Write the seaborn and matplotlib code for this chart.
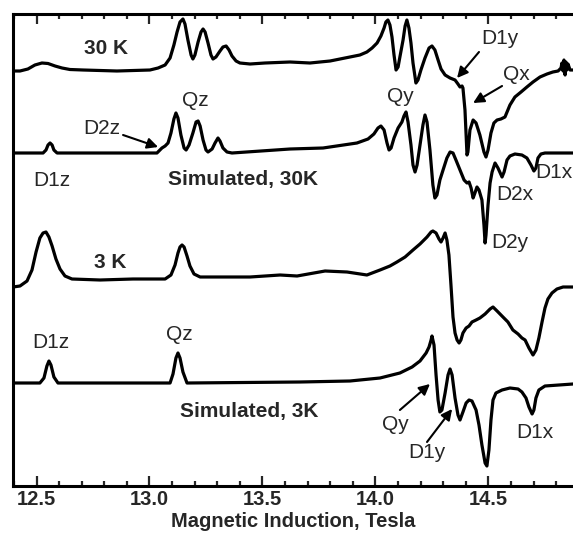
import numpy as np
import pandas as pd
import matplotlib
matplotlib.use("Agg")
import matplotlib.pyplot as plt
import seaborn as sns
from matplotlib.ticker import MultipleLocator

# ---------------- data (field in Tesla, intensity in arbitrary units relative to baseline) ----------------
exp30_field = [12.396, 12.427, 12.462, 12.493, 12.524, 12.551, 12.582, 12.613, 12.648, 12.706, 12.856,
               13.002, 13.038, 13.069, 13.091, 13.108, 13.122, 13.135, 13.148, 13.157, 13.170, 13.184,
               13.192, 13.201, 13.215, 13.228, 13.237, 13.246, 13.259, 13.272, 13.281, 13.294, 13.312,
               13.325, 13.339, 13.352, 13.365, 13.383, 13.400, 13.445, 13.511, 13.622, 13.710, 13.799,
               13.887, 13.931, 13.962, 13.985, 14.007, 14.024, 14.038, 14.046, 14.055, 14.064, 14.073,
               14.082, 14.091, 14.100, 14.108, 14.122, 14.131, 14.139, 14.148, 14.157, 14.166, 14.179,
               14.188, 14.201, 14.219, 14.237, 14.250, 14.263, 14.277, 14.290, 14.308, 14.330, 14.352,
               14.365, 14.374, 14.383, 14.387, 14.396, 14.401, 14.405, 14.409, 14.418, 14.432, 14.445,
               14.462, 14.480, 14.489, 14.498, 14.511, 14.524, 14.538, 14.555, 14.573, 14.595, 14.617,
               14.644, 14.670, 14.697, 14.728, 14.759, 14.785, 14.808, 14.821, 14.825, 14.830, 14.834,
               14.839, 14.843, 14.847, 14.852, 14.861, 14.874]
exp30_int = [-1, -1, 1, 5, 7, 6.5, 4, 2, 0.5, 0, -1,
             0, 2, 5, 12, 25, 38, 48, 51, 46, 30, 15,
             11, 15, 28, 38, 41, 38, 27, 15, 11, 13, 19,
             23, 24, 20, 14, 9, 7, 6, 7, 8, 7, 9,
             13, 15, 18, 22, 27, 34, 42, 48, 50, 45, 33,
             15, 0, 3, 13, 30, 44, 50, 42, 27, 7, -13,
             -10, 0, 12, 22, 24, 20, 10, 1, -5, -8, -10,
             -14, -17, -16, -18, -40, -65, -85, -82, -60, -50, -53,
             -65, -82, -87, -80, -63, -53, -50, -49, -47, -35, -27,
             -22, -17, -12, -7, -4, -2, -1, 2, 7, -1, 10,
             -5, 8, 0, 6, 0, 0]

sim30_field = [12.396, 12.529, 12.542, 12.551, 12.560, 12.569, 12.577, 12.591, 12.781, 13.033, 13.055,
               13.069, 13.082, 13.095, 13.108, 13.117, 13.126, 13.139, 13.153, 13.162, 13.175, 13.192,
               13.206, 13.215, 13.224, 13.237, 13.250, 13.259, 13.277, 13.290, 13.303, 13.312, 13.325,
               13.343, 13.365, 13.622, 13.768, 13.918, 13.967, 13.993, 14.011, 14.024, 14.038, 14.051,
               14.060, 14.069, 14.082, 14.100, 14.117, 14.126, 14.135, 14.144, 14.157, 14.166, 14.175,
               14.184, 14.197, 14.210, 14.219, 14.228, 14.241, 14.254, 14.263, 14.272, 14.285, 14.299,
               14.316, 14.330, 14.343, 14.356, 14.374, 14.392, 14.405, 14.414, 14.423, 14.432, 14.440,
               14.449, 14.458, 14.471, 14.480, 14.485, 14.489, 14.498, 14.507, 14.516, 14.529, 14.542,
               14.560, 14.569, 14.582, 14.595, 14.617, 14.648, 14.670, 14.688, 14.701, 14.710, 14.719,
               14.732, 14.750, 14.874]
sim30_int = [0, 0, 3, 8, 10, 8, 3, 0, 0, 0, 5,
             7, 10, 20, 34, 40, 35, 18, 5, 3, 8, 20,
             31, 32, 27, 13, 3, 1, 4, 10, 15, 12, 5,
             1, 0, 4, 5, 10, 14, 19, 25, 27, 23, 10,
             3, 5, 15, 25, 31, 37, 41, 31, 8, -12, -19,
             -12, 8, 28, 38, 31, 3, -32, -45, -42, -27, -17,
             -5, 1, 0, -7, -17, -27, -30, -29, -35, -45, -40,
             -34, -37, -47, -72, -90, -82, -52, -30, -19, -10, -15,
             -24, -19, -7, -3, -1, -2, -5, -12, -18, -15, -5,
             -1, 0, 0]

exp3_field = [12.396, 12.427, 12.458, 12.480, 12.498, 12.515, 12.529, 12.542, 12.555, 12.569, 12.586,
              12.604, 12.626, 12.657, 12.781, 12.927, 13.069, 13.095, 13.113, 13.126, 13.135, 13.144,
              13.153, 13.166, 13.179, 13.197, 13.224, 13.370, 13.445, 13.578, 13.653, 13.777, 13.874,
              13.962, 14.020, 14.064, 14.095, 14.131, 14.166, 14.197, 14.228, 14.246, 14.254, 14.268,
              14.281, 14.290, 14.299, 14.308, 14.316, 14.325, 14.334, 14.343, 14.352, 14.361, 14.370,
              14.378, 14.387, 14.401, 14.414, 14.427, 14.445, 14.462, 14.485, 14.507, 14.520, 14.538,
              14.564, 14.586, 14.608, 14.631, 14.648, 14.662, 14.679, 14.697, 14.710, 14.723, 14.737,
              14.750, 14.763, 14.781, 14.803, 14.830, 14.874]
exp3_int = [-8, -7, -2, 9, 27, 41, 46, 47, 42, 33, 20,
            10, 3, 0, -1, 0, 0, 4, 14, 26, 32, 34,
            32, 23, 13, 5, 2, 2, 2, 4, 3, 8, 7,
            4, 9, 13, 17, 22, 29, 35, 42, 47, 48, 46,
            40, 37, 41, 46, 39, 24, -6, -38, -54, -61, -64,
            -61, -54, -49, -47, -43, -41, -39, -35, -30, -28, -32,
            -38, -43, -51, -55, -59, -61, -69, -76, -71, -59, -43,
            -29, -20, -14, -10, -8, -8]

sim3_field = [12.396, 12.515, 12.533, 12.546, 12.555, 12.564, 12.577, 12.595, 13.091, 13.104, 13.117,
              13.126, 13.135, 13.148, 13.166, 13.666, 13.887, 14.020, 14.108, 14.162, 14.197, 14.224,
              14.237, 14.246, 14.250, 14.259, 14.268, 14.277, 14.285, 14.294, 14.308, 14.321, 14.330,
              14.339, 14.352, 14.365, 14.374, 14.387, 14.401, 14.414, 14.427, 14.445, 14.458, 14.471,
              14.485, 14.493, 14.502, 14.511, 14.520, 14.533, 14.560, 14.595, 14.631, 14.648, 14.666,
              14.679, 14.693, 14.701, 14.710, 14.723, 14.750, 14.874]
sim3_int = [0, 0, 5, 17, 22, 18, 6, 0, 0, 9, 25,
            30, 25, 11, 0, 1, 2, 5, 10, 16, 22, 30,
            36, 43, 47, 38, 8, -17, -29, -27, -10, 8, 14,
            8, -15, -32, -37, -29, -20, -17, -18, -27, -42, -62,
            -80, -83, -67, -37, -17, -10, -7, -5, -6, -9, -15,
            -24, -31, -27, -15, -7, -3, -1]

trace_names = ["30 K", "Simulated, 30K", "3 K", "Simulated, 3K"]
tick_values = [12.5, 13.0, 13.5, 14.0, 14.5]
tick_labels = ["12.5", "13.0", "13.5", "14.0", "14.5"]

# ---------------- layout ----------------
offsets = {"30 K": 416, "Simulated, 30K": 333, "3 K": 207, "Simulated, 3K": 103}
series = {"30 K": (exp30_field, exp30_int),
          "Simulated, 30K": (sim30_field, sim30_int),
          "3 K": (exp3_field, exp3_int),
          "Simulated, 3K": (sim3_field, sim3_int)}

frames = []
for name in trace_names:
    f, v = series[name]
    frames.append(pd.DataFrame({"field": f, "signal": np.array(v, dtype=float) + offsets[name],
                                "trace": name}))
df = pd.concat(frames, ignore_index=True)

sns.set_theme(style="ticks")
plt.rcParams["font.family"] = ["Liberation Sans", "DejaVu Sans"]

fig = plt.figure(figsize=(5.73, 5.34), dpi=100)
ax = fig.add_axes([13 / 573, 48 / 534, 1 - 13 / 573, 472 / 534])

for name in trace_names:
    sns.lineplot(data=df[df["trace"] == name], x="field", y="signal", ax=ax, color="black",
                 lw=2.3, estimator=None, sort=False, legend=False,
                 solid_joinstyle="round", solid_capstyle="round")

ax.set_xlim(12.396, 14.874)
ax.set_ylim(0, 472)
ax.set_yticks([])
ax.set_ylabel("")
ax.set_xticks(tick_values)
ax.set_xticklabels(tick_labels, fontsize=14.5, fontweight="bold")
ax.xaxis.set_minor_locator(MultipleLocator(0.1))
ax.tick_params(axis="x", which="major", direction="in", top=True, length=7, width=1.6, pad=3)
ax.tick_params(axis="x", which="minor", direction="in", top=True, length=3.5, width=1.6)
ax.set_xlabel("Magnetic Induction, Tesla", fontsize=14.5, fontweight="bold", labelpad=2)
for s in ["left", "top", "bottom"]:
    ax.spines[s].set_linewidth(2.2)
    ax.spines[s].set_color("black")
ax.spines["right"].set_visible(False)

bold = dict(fontsize=15, fontweight="bold", ha="center", va="center")
ax.text(12.808, 437, "30 K", **bold)
ax.text(13.414, 306, "Simulated, 30K", **bold)
ax.text(12.825, 223, "3 K", **bold)
ax.text(13.440, 74, "Simulated, 3K", **bold)

reg = dict(fontsize=15, ha="center", va="center")
arrow = dict(arrowstyle="-|>", color="black", lw=1.5, mutation_scale=16, shrinkA=0, shrinkB=0)

# 30 K / simulated 30 K labels
ax.text(12.569, 306, "D1z", **reg)
ax.text(13.201, 386, "Qz", **reg)
ax.text(12.790, 358, "D2z", **reg)
ax.annotate("", xy=(13.038, 339), xytext=(12.883, 351), arrowprops=arrow)
ax.text(14.109, 389, "Qy", **reg)
ax.text(14.551, 448, "D1y", **reg)
ax.annotate("", xy=(14.361, 408), xytext=(14.458, 434), arrowprops=arrow)
ax.text(14.622, 411, "Qx", **reg)
ax.annotate("", xy=(14.432, 383), xytext=(14.560, 400), arrowprops=arrow)
ax.text(14.706, 314, "D1x", fontsize=15, ha="left", va="center")
ax.text(14.617, 291, "D2x", **reg)
ax.text(14.595, 243, "D2y", **reg)

# simulated 3 K labels
ax.text(12.564, 143, "D1z", **reg)
ax.text(13.131, 151, "Qz", **reg)
ax.text(14.086, 61, "Qy", **reg)
ax.annotate("", xy=(14.241, 102), xytext=(14.108, 76), arrowprops=arrow)
ax.text(14.228, 33, "D1y", **reg)
ax.annotate("", xy=(14.339, 77), xytext=(14.228, 44), arrowprops=arrow)
ax.text(14.706, 53, "D1x", **reg)

fig.savefig("out.png", dpi=100)
